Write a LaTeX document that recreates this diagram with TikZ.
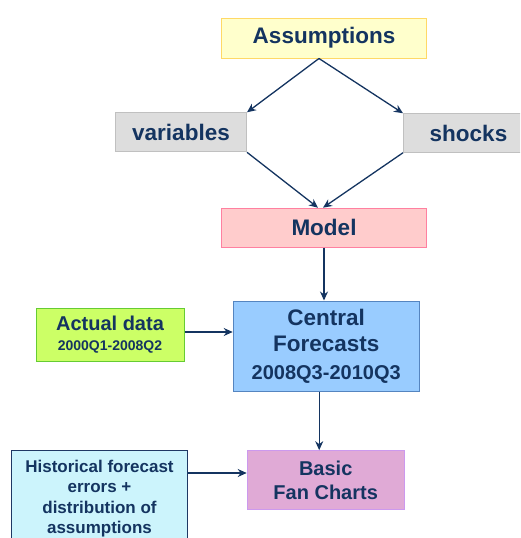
\documentclass[tikz,border=0pt]{standalone}
\usepackage{fontspec}
\setmainfont{Liberation Sans}
\usepackage{tikz}
\usetikzlibrary{arrows.meta}
\definecolor{navy}{RGB}{20,52,96}
\definecolor{assfill}{HTML}{FFFFCC}
\definecolor{assdraw}{HTML}{FFD966}
\definecolor{greyfill}{HTML}{DDDDDD}
\definecolor{greydraw}{HTML}{C0C0C0}
\definecolor{modfill}{HTML}{FFCCCC}
\definecolor{moddraw}{HTML}{FF80A0}
\definecolor{cenfill}{HTML}{99CCFF}
\definecolor{cendraw}{HTML}{5585C0}
\definecolor{actfill}{HTML}{CCFF66}
\definecolor{actdraw}{HTML}{66CC33}
\definecolor{fanfill}{HTML}{E0AAD6}
\definecolor{fandraw}{HTML}{CC99EE}
\definecolor{hisfill}{HTML}{CCF4FC}
\definecolor{hisdraw}{HTML}{1F3864}

\begin{document}
\begin{tikzpicture}[x=1pt, y=-1pt,
    box/.style={draw, line width=1pt, inner sep=0pt, align=center, text=navy,
      font=\bfseries\fontsize{22.5}{26.5}\selectfont},
    arr/.style={draw=navy, line width=1.3pt, -{Stealth[length=9pt,width=8pt]}}]
         \useasboundingbox (0,0) rectangle (520,538);
         \clip (0,0) rectangle (520,538);
         \node [box, fill=assfill, draw=assdraw, minimum width=205, minimum height=40] (Ass) at (324, 38) {Assumptions};
         \node [box, fill=greyfill, draw=greydraw, minimum width=131, minimum height=39] (Var) at (181, 132.3) {variables};
         \node [box, fill=greyfill, draw=greydraw, minimum width=130, minimum height=38.5] (Sho) at (468.5, 133) {shocks};
         \node [box, fill=modfill, draw=moddraw, minimum width=205, minimum height=39] (Mod) at (324, 227.7) {Model};
         \node [box, fill=cenfill, draw=cendraw, minimum width=186, minimum height=90] (Cen) at (326.2, 346)
               {Central\\Forecasts\\[1pt]{\fontsize{20}{24}\selectfont 2008Q3-2010Q3}};
         \node [box, fill=actfill, draw=actdraw, minimum width=148, minimum height=53, font=\bfseries\fontsize{20}{20}\selectfont] (Act) at (110, 335)
               {Actual data\\{\fontsize{14}{16}\selectfont 2000Q1-2008Q2}};
         \node [box, fill=fanfill, draw=fandraw, minimum width=157, minimum height=59, font=\bfseries\fontsize{20}{24}\selectfont] (Fan) at (325.7, 480.2)
               {Basic\\Fan Charts};
         \node [box, fill=hisfill, draw=hisdraw, minimum width=176, minimum height=96, font=\bfseries\fontsize{17}{20.5}\selectfont] (His) at (99.5, 498.5)
               {Historical forecast\\errors +\\distribution of\\assumptions};
         \draw [arr] ([xshift=-5]Ass.south) -- (Var.north east);
         \draw [arr] ([xshift=-5]Ass.south) -- (Sho.north west);
         \draw [arr] (Var.south east) -- ([xshift=-6]Mod.north);
         \draw [arr] (Sho.south west) -- ([xshift=-1]Mod.north);
         \draw [arr] (Mod.south) -- (Mod.south |- Cen.north);
         \draw [arr] (Act.east |- 0,332) -- (Cen.west |- 0,332);
         \draw [arr] ([xshift=-7]Cen.south) -- ([xshift=-7]Cen.south |- Fan.north);
         \draw [arr] (His.east |- 0,473) -- (Fan.west |- 0,473);
\end{tikzpicture}
\end{document}
